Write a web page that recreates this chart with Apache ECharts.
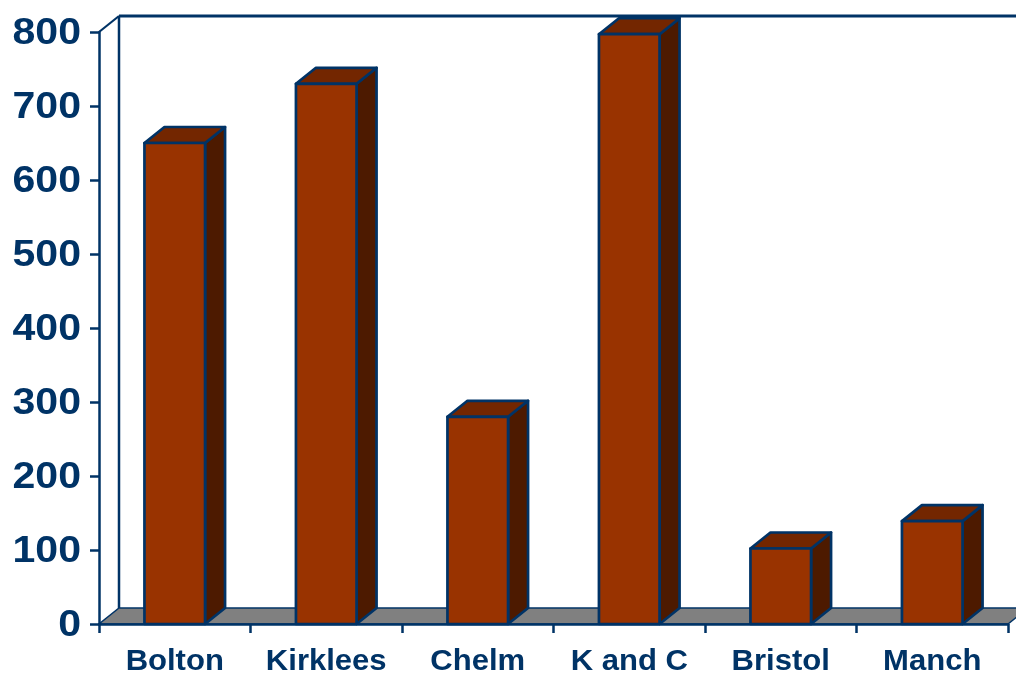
<!DOCTYPE html>
<html>
<head>
<meta charset="utf-8">
<script src="https://cdn.jsdelivr.net/npm/echarts@6/dist/echarts.min.js"></script>
<style>
html,body{margin:0;padding:0;background:#fff;}
#chart{width:1016px;height:673px;}
</style>
</head>
<body>
<div id="chart"></div>
<script>
const categories = ['Bolton', 'Kirklees', 'Chelm', 'K and C', 'Bristol', 'Manch'];
const values = [650, 730, 280, 797, 102, 139];
const yTicks = [0, 100, 200, 300, 400, 500, 600, 700, 800];

const NAVY = '#003366';
const DX = 20, DY = -16;
const FONT = '"Liberation Sans", Arial, sans-serif';

const chart = echarts.init(document.getElementById('chart'));

function frameItem(params, api) {
  const n = categories.length;
  const p0 = api.coord([0, 0]);
  const bw = api.size([1, 0])[0];
  const left = p0[0] - bw / 2;
  const right = api.coord([n - 1, 0])[0] + bw / 2;
  const y0 = p0[1];
  const yTop = api.coord([0, yTicks[yTicks.length - 1]])[1];
  return {
    type: 'group',
    children: [
      { type: 'polygon', shape: { points: [[left, y0], [right, y0], [right + DX, y0 + DY], [left + DX, y0 + DY]] },
        style: { fill: '#808080', stroke: NAVY, lineWidth: 1.5 } },
      { type: 'line', shape: { x1: left + DX, y1: y0 + DY, x2: left + DX, y2: yTop + DY },
        style: { stroke: NAVY, lineWidth: 2.5 } },
      { type: 'line', shape: { x1: left + DX, y1: yTop + DY, x2: right + DX + 40, y2: yTop + DY },
        style: { stroke: NAVY, lineWidth: 2.8 } },
      { type: 'line', shape: { x1: left, y1: yTop, x2: left + DX, y2: yTop + DY },
        style: { stroke: NAVY, lineWidth: 2.2 } }
    ]
  };
}

function barItem(params, api) {
  const ci = api.value(0);
  const v = api.value(1);
  const base = api.coord([ci, 0]);
  const top = api.coord([ci, v]);
  const bw = api.size([1, 0])[0] * 0.40;
  const x1 = base[0] - bw / 2, x2 = base[0] + bw / 2;
  const yb = base[1], yt = top[1];
  const st = { stroke: NAVY, lineWidth: 2.7, lineJoin: 'round' };
  return {
    type: 'group',
    children: [
      { type: 'polygon', shape: { points: [[x2, yb], [x2 + DX, yb + DY], [x2 + DX, yt + DY], [x2, yt]] },
        style: Object.assign({ fill: '#4d1a00' }, st) },
      { type: 'polygon', shape: { points: [[x1, yt], [x1 + DX, yt + DY], [x2 + DX, yt + DY], [x2, yt]] },
        style: Object.assign({ fill: '#732600' }, st) },
      { type: 'rect', shape: { x: x1, y: yt, width: x2 - x1, height: yb - yt },
        style: Object.assign({ fill: '#993300' }, st) }
    ]
  };
}

function yLabelItem(params, api) {
  const v = api.value(1);
  const p = api.coord([0, v]);
  const bw = api.size([1, 0])[0];
  return {
    type: 'text',
    x: p[0] - bw / 2 - 18,
    y: p[1] + 2,
    scaleX: 1.14,
    style: { text: String(v), fill: NAVY, font: 'bold 36px ' + FONT, align: 'right', verticalAlign: 'middle' }
  };
}

function xLabelItem(params, api) {
  const i = api.value(0);
  const p = api.coord([i, 0]);
  return {
    type: 'text',
    x: p[0],
    y: p[1] + 38,
    scaleX: 1.07,
    style: { text: categories[i], fill: NAVY, font: 'bold 29px ' + FONT, align: 'center', verticalAlign: 'middle' }
  };
}

chart.setOption({
  animation: false,
  backgroundColor: '#fff',
  grid: { left: 99, right: 8, top: 32, bottom: 49, containLabel: false },
  xAxis: {
    type: 'category',
    data: categories,
    boundaryGap: true,
    axisLine: { show: true, lineStyle: { color: NAVY, width: 2.5 } },
    axisTick: { show: true, length: 9, lineStyle: { color: NAVY, width: 2.5 } },
    axisLabel: { show: false },
    splitLine: { show: false },
    z: 5
  },
  yAxis: {
    type: 'value',
    min: 0,
    max: 800,
    interval: 100,
    axisLine: { show: true, lineStyle: { color: NAVY, width: 2.5 } },
    axisTick: { show: true, length: 9, lineStyle: { color: NAVY, width: 2.5 } },
    axisLabel: { show: false },
    splitLine: { show: false },
    z: 5
  },
  series: [
    {
      type: 'custom',
      renderItem: frameItem,
      data: [[0, 0]],
      encode: { x: 0, y: 1 },
      clip: false,
      silent: true,
      z: 1
    },
    {
      type: 'custom',
      renderItem: barItem,
      data: values.map((v, i) => [i, v]),
      encode: { x: 0, y: 1 },
      clip: false,
      z: 3
    },
    {
      type: 'custom',
      renderItem: yLabelItem,
      data: yTicks.map(v => [0, v]),
      encode: { x: 0, y: 1 },
      clip: false,
      silent: true,
      z: 6
    },
    {
      type: 'custom',
      renderItem: xLabelItem,
      data: categories.map((c, i) => [i, 0]),
      encode: { x: 0, y: 1 },
      clip: false,
      silent: true,
      z: 6
    }
  ]
});
</script>
</body>
</html>
